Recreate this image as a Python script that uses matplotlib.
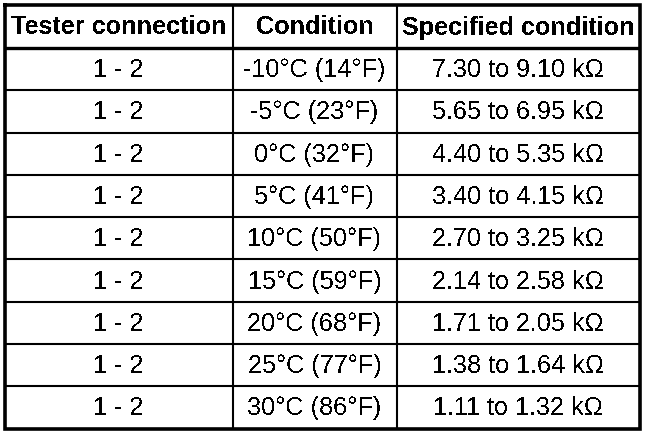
import matplotlib
matplotlib.use('Agg')
import matplotlib.pyplot as plt

plt.rcParams['text.antialiased'] = False

# Table contents
headers = ['Tester connection', 'Condition', 'Specified condition']
connections = ['1 - 2'] * 9
conditions = ['-10°C (14°F)', '-5°C (23°F)', '0°C (32°F)', '5°C (41°F)',
              '10°C (50°F)', '15°C (59°F)', '20°C (68°F)', '25°C (77°F)',
              '30°C (86°F)']
specs = ['7.30 to 9.10 kΩ', '5.65 to 6.95 kΩ', '4.40 to 5.35 kΩ',
         '3.40 to 4.15 kΩ', '2.70 to 3.25 kΩ', '2.14 to 2.58 kΩ',
         '1.71 to 2.05 kΩ', '1.38 to 1.64 kΩ', '1.11 to 1.32 kΩ']

# Layout in pixel units
col_edges = [4.5, 232.5, 396.5, 639.5]
top, header_bottom, bottom = 5, 48, 428.5
n_rows = len(connections)
row_h = (bottom - header_bottom) / n_rows

fig = plt.figure(figsize=(6.72, 4.36), dpi=100)
ax = fig.add_axes([0, 0, 1, 1])
ax.set_xlim(0, 672)
ax.set_ylim(436, 0)
ax.axis('off')

font = 'Liberation Sans'
fs = 18.2

# Inner grid lines
for i in range(1, n_rows):
    y = header_bottom + i * row_h
    ax.plot([col_edges[0], col_edges[-1]], [y, y], color='black', lw=1.5,
            solid_capstyle='butt')
for x in col_edges[1:-1]:
    ax.plot([x, x], [top, bottom], color='black', lw=1.5, solid_capstyle='butt')

# Header separator and outer border
ax.plot([col_edges[0], col_edges[-1]], [header_bottom, header_bottom],
        color='black', lw=2.4, solid_capstyle='butt')
ax.plot([col_edges[0], col_edges[-1], col_edges[-1], col_edges[0], col_edges[0]],
        [top, top, bottom, bottom, top], color='black', lw=2.6,
        solid_joinstyle='miter')

centers = [(col_edges[i] + col_edges[i + 1]) / 2 for i in range(3)]

for cx, h in zip(centers, headers):
    ax.text(cx, (top + header_bottom) / 2 + 1, h, ha='center', va='center',
            fontsize=fs, fontweight='bold', family=font)

for i in range(n_rows):
    cy = header_bottom + (i + 0.5) * row_h + 1
    for cx, val in zip(centers, [connections[i], conditions[i], specs[i]]):
        ax.text(cx, cy, val, ha='center', va='center', fontsize=fs,
                family=font)

fig.savefig('out.png', dpi=100)
